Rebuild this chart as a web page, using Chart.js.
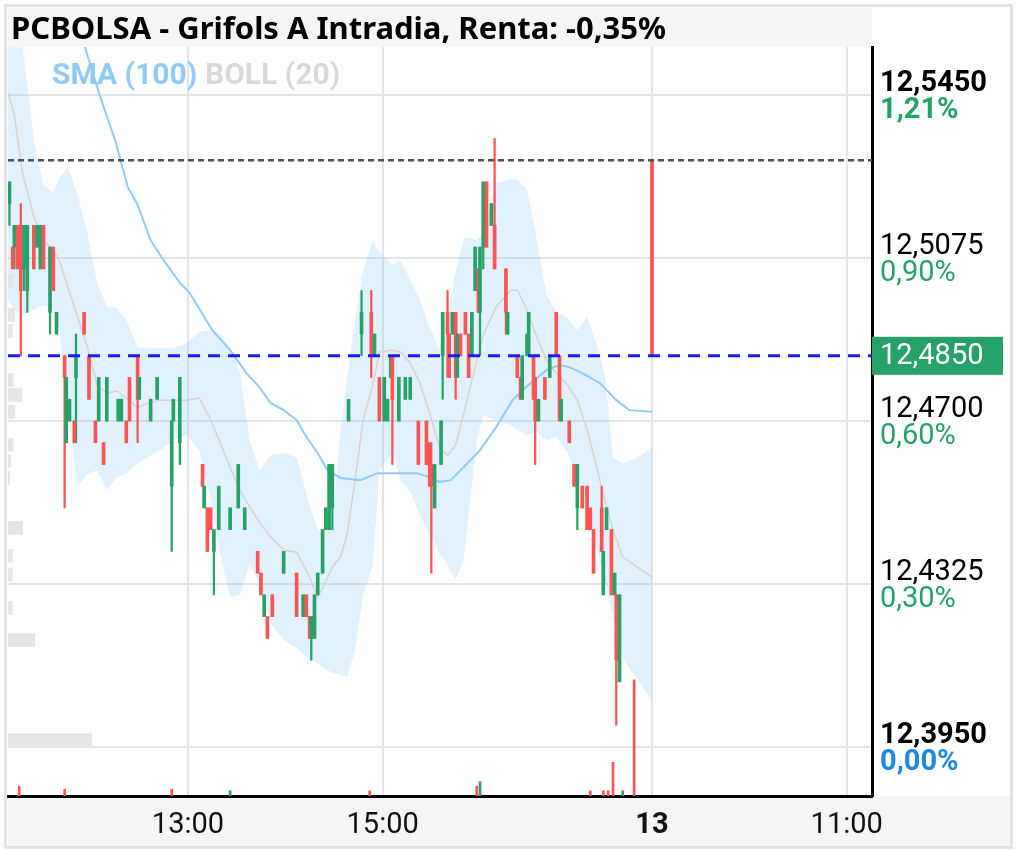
<!DOCTYPE html>
<html><head><meta charset="utf-8">
<script src="https://cdn.jsdelivr.net/npm/chart.js@4.4.1/dist/chart.umd.min.js"></script>
<style>html,body{margin:0;padding:0;background:#fff;}#wrap{position:relative;width:1017px;height:851px;}</style>
</head><body><div id="wrap"><canvas id="c" width="1017" height="851"></canvas></div>
<script>
const TITLE = 'PCBOLSA - Grifols A Intradia, Renta: -0,35%';
const LEGEND_SMA = 'SMA (100)';
const LEGEND_BOLL = 'BOLL (20)';
// time axis: minutes after 09:00 of day 12 (session compressed; day 13 opens at 526)
const xTickValues = [240, 360, 526, 646];
const xTickLabels = ['13:00', '15:00', '13', '11:00'];
const yTickValues = [12.395, 12.4325, 12.47, 12.5075, 12.545];
const pctLabels = ['0,00%', '0,30%', '0,60%', '0,90%', '1,21%'];
const lastPrice = 12.485;
const prevClose = 12.53;

const candleTime = [130,132,133,135,137,139,141,145,147,149,
151,155,157,159,164,165,167,170,171,176,
179,183,185,188,190,197,199,202,204,209,
210,217,221,230,231,235,249,250,252,254,
256,259,266,271,275,283,285,287,289,292,
299,307,311,313,315,316,318,320,323,325,
327,329,339,347,353,355,358,361,363,365,
366,370,374,377,382,387,389,390,392,396,
397,400,401,403,405,406,408,411,413,415,
417,419,420,422,424,427,429,436,437,443,
445,446,449,450,453,454,456,460,463,467,
469,470,475,478,480,483,486,488,490,495,
496,498,501,503,504,506,526];
const candleOpen = [12.520,12.510,12.510,12.515,12.515,12.505,12.500,12.515,12.510,12.505,
12.515,12.495,12.510,12.490,12.485,12.465,12.470,12.470,12.480,12.495,
12.485,12.470,12.470,12.465,12.470,12.470,12.470,12.470,12.480,12.485,
12.475,12.470,12.475,12.455,12.470,12.465,12.460,12.450,12.450,12.450,
12.440,12.445,12.445,12.450,12.445,12.440,12.435,12.425,12.425,12.430,
12.435,12.435,12.425,12.430,12.425,12.420,12.420,12.430,12.435,12.445,
12.445,12.450,12.470,12.490,12.495,12.485,12.480,12.470,12.470,12.480,
12.485,12.470,12.475,12.475,12.470,12.470,12.465,12.460,12.450,12.460,
12.485,12.495,12.490,12.490,12.495,12.480,12.490,12.495,12.490,12.485,
12.500,12.505,12.495,12.510,12.525,12.515,12.515,12.505,12.490,12.485,
12.480,12.475,12.485,12.485,12.485,12.480,12.470,12.480,12.480,12.495,
12.485,12.470,12.470,12.460,12.450,12.455,12.455,12.450,12.445,12.450,
12.430,12.445,12.445,12.430,12.430,12.410,12.530];
const candleHigh = [12.525,12.510,12.515,12.515,12.520,12.515,12.515,12.515,12.515,12.515,
12.515,12.510,12.510,12.495,12.485,12.480,12.475,12.470,12.490,12.495,
12.485,12.470,12.480,12.465,12.480,12.475,12.475,12.470,12.480,12.485,
12.480,12.475,12.480,12.470,12.475,12.480,12.460,12.455,12.450,12.450,
12.445,12.455,12.450,12.460,12.450,12.440,12.435,12.430,12.425,12.430,
12.440,12.435,12.430,12.430,12.425,12.425,12.430,12.435,12.445,12.450,
12.460,12.460,12.475,12.500,12.500,12.490,12.480,12.480,12.475,12.485,
12.485,12.480,12.480,12.480,12.470,12.470,12.465,12.465,12.460,12.470,
12.495,12.500,12.490,12.495,12.495,12.490,12.490,12.495,12.490,12.495,
12.510,12.505,12.510,12.525,12.525,12.520,12.535,12.505,12.495,12.485,
12.480,12.485,12.490,12.495,12.485,12.480,12.475,12.480,12.485,12.495,
12.485,12.475,12.470,12.460,12.460,12.455,12.455,12.450,12.445,12.455,
12.440,12.450,12.445,12.435,12.430,12.430,12.530];
const candleLow = [12.515,12.505,12.505,12.505,12.485,12.500,12.495,12.505,12.510,12.505,
12.505,12.490,12.500,12.490,12.450,12.465,12.470,12.465,12.465,12.490,
12.475,12.465,12.470,12.460,12.470,12.470,12.470,12.465,12.470,12.465,
12.475,12.470,12.475,12.440,12.470,12.460,12.455,12.450,12.440,12.445,
12.430,12.445,12.445,12.450,12.445,12.435,12.430,12.425,12.420,12.425,
12.435,12.425,12.425,12.425,12.420,12.415,12.420,12.430,12.435,12.445,
12.445,12.445,12.470,12.485,12.480,12.485,12.470,12.470,12.470,12.480,
12.460,12.470,12.475,12.475,12.460,12.460,12.455,12.435,12.450,12.460,
12.475,12.480,12.480,12.490,12.475,12.480,12.485,12.490,12.480,12.485,
12.500,12.495,12.485,12.505,12.510,12.515,12.505,12.490,12.490,12.480,
12.475,12.475,12.485,12.485,12.475,12.460,12.470,12.475,12.480,12.485,
12.470,12.470,12.465,12.455,12.445,12.450,12.445,12.445,12.435,12.440,
12.430,12.445,12.430,12.430,12.400,12.410,12.485];
const candleClose = [12.525,12.505,12.515,12.505,12.500,12.515,12.515,12.505,12.515,12.515,
12.505,12.510,12.500,12.495,12.480,12.480,12.475,12.465,12.485,12.490,
12.475,12.465,12.480,12.460,12.480,12.475,12.475,12.465,12.470,12.475,
12.480,12.475,12.480,12.470,12.475,12.480,12.455,12.455,12.440,12.445,
12.445,12.455,12.450,12.460,12.450,12.435,12.430,12.430,12.420,12.425,
12.440,12.425,12.430,12.425,12.420,12.425,12.430,12.435,12.445,12.450,
12.460,12.460,12.475,12.495,12.485,12.490,12.470,12.480,12.475,12.485,
12.475,12.480,12.480,12.480,12.460,12.460,12.455,12.455,12.460,12.470,
12.495,12.490,12.480,12.495,12.480,12.490,12.485,12.490,12.480,12.495,
12.510,12.495,12.510,12.525,12.510,12.520,12.505,12.495,12.495,12.480,
12.475,12.485,12.490,12.495,12.475,12.470,12.475,12.475,12.485,12.485,
12.470,12.475,12.465,12.455,12.460,12.450,12.445,12.445,12.435,12.440,
12.440,12.450,12.430,12.435,12.415,12.430,12.485];

// volume (thousand shares) shown at the foot of the chart
const volTime  = [136,164,230,266,352,418,420,488,496,499,502,508,515];
const volValue = [13,9,9,7,7,13,19,7,7,7,45,7,155];
const volUp    = [false,false,false,true,false,false,true,false,false,false,false,true,false];

// volume profile (thousand shares per price bin)
const profPrice  = [12.5022,12.4944,12.4907,12.4794,12.4760,12.4721,12.4645,12.4608,12.4569,12.4454,12.4390,12.4346,12.4270,12.4196,12.3966];
const profVolume = [6,8,5,6,16,8,6,3,2,17,5,5,5,31,97];

// Bollinger (20)
const bollTime = [129,133,138,145,151,157,161,166,172,178,184,190,196,202,209,215,223,231,239,247,254,260,266,272,278,284,291,299,307,315,320,324,329,334,338,343,348,354,358,366,371,377,383,389,395,400,405,410,414,418,422,430,439,443,449,455,461,467,474,480,486,492,497,502,508,517,526];
const bollUpper = [12.5600,12.5600,12.5565,12.5347,12.5243,12.5225,12.5259,12.5285,12.5220,12.5133,
12.5018,12.4963,12.4960,12.4932,12.4870,12.4868,12.4868,12.4868,12.4879,12.4905,
12.4909,12.4900,12.4870,12.4813,12.4656,12.4586,12.4621,12.4626,12.4616,12.4506,
12.4449,12.4437,12.4456,12.4679,12.4794,12.4932,12.5048,12.5116,12.5089,12.5059,
12.5070,12.5025,12.4979,12.4916,12.4863,12.4949,12.5043,12.5121,12.5121,12.5116,
12.5133,12.5248,12.5255,12.5255,12.5232,12.5116,12.4990,12.4951,12.4937,12.4909,
12.4939,12.4875,12.4806,12.4616,12.4602,12.4616,12.4640];
const bollMiddle = [12.5457,12.5404,12.5271,12.5170,12.5116,12.5093,12.5066,12.5008,12.4939,12.4870,
12.4783,12.4764,12.4769,12.4753,12.4730,12.4741,12.4748,12.4748,12.4748,12.4753,
12.4702,12.4649,12.4593,12.4541,12.4502,12.4468,12.4433,12.4403,12.4398,12.4341,
12.4295,12.4323,12.4364,12.4387,12.4437,12.4564,12.4702,12.4783,12.4859,12.4863,
12.4859,12.4833,12.4787,12.4718,12.4640,12.4621,12.4645,12.4718,12.4778,12.4840,
12.4898,12.4963,12.5001,12.5001,12.4956,12.4893,12.4840,12.4810,12.4783,12.4748,
12.4679,12.4593,12.4518,12.4449,12.4387,12.4364,12.4341];
const bollLower = [12.4979,12.4956,12.4944,12.4956,12.4967,12.4956,12.4909,12.4725,12.4548,12.4579,
12.4586,12.4541,12.4570,12.4579,12.4602,12.4616,12.4633,12.4656,12.4667,12.4633,
12.4518,12.4392,12.4295,12.4300,12.4369,12.4327,12.4235,12.4196,12.4177,12.4150,
12.4143,12.4132,12.4120,12.4116,12.4111,12.4173,12.4300,12.4369,12.4586,12.4628,
12.4563,12.4537,12.4484,12.4437,12.4396,12.4369,12.4334,12.4380,12.4518,12.4656,
12.4714,12.4702,12.4691,12.4679,12.4667,12.4673,12.4656,12.4663,12.4626,12.4575,
12.4506,12.4403,12.4334,12.4242,12.4155,12.4104,12.4058];

// SMA (100)
const smaTime = [173,177,186,195,203,209,217,225,235,241,255,266,276,284,291,299,307,313,320,326,334,346,357,369,381,389,395,402,410,420,430,440,451,461,469,475,483,494,504,512,526];
const smaValue = [12.5623,12.5554,12.5445,12.5347,12.5238,12.5197,12.5116,12.5070,12.5018,12.4995,
12.4909,12.4863,12.4810,12.4778,12.4741,12.4725,12.4702,12.4663,12.4626,12.4587,
12.4569,12.4564,12.4580,12.4580,12.4580,12.4571,12.4560,12.4564,12.4594,12.4633,
12.4686,12.4748,12.4787,12.4817,12.4829,12.4824,12.4810,12.4787,12.4748,12.4725,12.4721];

const X_MIN = 129.1, X_MAX = 661.6, Y_MIN = 12.38373, Y_MAX = 12.55604;
const GREEN = '#26a269', RED = '#ff5252';

const candleColors = candleOpen.map((o, i) => candleClose[i] >= o ? GREEN : RED);
const pts = (xs, ys) => xs.map((x, i) => ({x: x, y: ys[i]}));
const priceLabel = v => v.toFixed(4).replace('.', ',');

const decor = {
  id: 'decor',
  beforeDraw(chart) {
    const {ctx, chartArea: a, width: W, height: H} = chart;
    ctx.save();
    ctx.fillStyle = '#ffffff'; ctx.fillRect(0, 0, W, H);
    ctx.fillStyle = '#f5f5f5';
    ctx.fillRect(8, 8, a.right - 8, a.top - 8);
    ctx.fillRect(8, a.bottom, W - 14, H - 5 - a.bottom);
    ctx.strokeStyle = '#e3e3e3'; ctx.lineWidth = 3;
    ctx.strokeRect(5.5, 5.5, W - 11, H - 9);
    ctx.restore();
  },
  afterDraw(chart) {
    const {ctx, chartArea: a} = chart;
    const ys = chart.scales.y;
    ctx.save();
    ctx.textBaseline = 'alphabetic';
    ctx.textAlign = 'left';
    ctx.fillStyle = '#000';
    ctx.font = 'bold 31px "Noto Sans"';
    ctx.fillText(TITLE, 11, 39);
    ctx.font = 'bold 30px Roboto';
    ctx.fillStyle = '#90caf9';
    ctx.fillText(LEGEND_SMA, 52, 84);
    ctx.fillStyle = '#d9d9d9';
    ctx.fillText(LEGEND_BOLL, 205, 84);
    ctx.textBaseline = 'middle';
    yTickValues.forEach((v, i) => {
      const y = ys.getPixelForValue(v);
      const edge = (i === 0 || i === yTickValues.length - 1);
      ctx.font = (edge ? 'bold ' : '') + '29px Roboto';
      ctx.fillStyle = i === 0 ? '#1e88e5' : GREEN;
      ctx.fillText(pctLabels[i], a.right + 8, y + 16);
    });
    const py = ys.getPixelForValue(lastPrice);
    ctx.fillStyle = GREEN;
    ctx.fillRect(a.right, py - 19, 131, 38);
    ctx.fillStyle = '#fff';
    ctx.font = '29px Roboto';
    ctx.fillText(priceLabel(lastPrice), a.right + 8, py + 1);
    ctx.restore();
  }
};

new Chart(document.getElementById('c'), {
  type: 'bar',
  data: {
    datasets: [
      {type: 'line', data: pts(bollTime, bollUpper), borderWidth: 0, pointRadius: 0, fill: '+1', backgroundColor: 'rgba(144,202,249,0.27)', order: 20},
      {type: 'line', data: pts(bollTime, bollLower), borderWidth: 0, pointRadius: 0, fill: false, order: 20},
      {type: 'bar', indexAxis: 'y', xAxisID: 'xProf', yAxisID: 'y', data: profPrice.map((p, i) => ({x: profVolume[i], y: p})), backgroundColor: '#e6e6e6', barThickness: 13, grouped: false, order: 19},
      {type: 'line', data: pts(bollTime, bollMiddle), borderColor: '#dcd2ce', borderWidth: 1.5, pointRadius: 0, fill: false, order: 15},
      {type: 'line', data: pts(smaTime, smaValue), borderColor: '#90caf9', borderWidth: 2, pointRadius: 0, fill: false, order: 14},
      {type: 'bar', xAxisID: 'x', yAxisID: 'yVol', data: pts(volTime, volValue), backgroundColor: volUp.map(u => u ? GREEN : RED), barThickness: 2, grouped: false, order: 12},
      {type: 'bar', xAxisID: 'x', yAxisID: 'y', data: candleTime.map((t, i) => ({x: t, y: [candleLow[i], candleHigh[i]]})), backgroundColor: candleColors, barThickness: 1.6, grouped: false, order: 10},
      {type: 'bar', xAxisID: 'x', yAxisID: 'y', data: candleTime.map((t, i) => ({x: t, y: [candleOpen[i], candleClose[i]]})), backgroundColor: candleColors, barThickness: 3, grouped: false, order: 9},
      {type: 'line', data: [{x: X_MIN, y: prevClose}, {x: X_MAX, y: prevClose}], borderColor: '#505050', borderWidth: 2.5, borderDash: [6, 4], pointRadius: 0, fill: false, order: 2},
      {type: 'line', data: [{x: X_MIN, y: lastPrice}, {x: X_MAX, y: lastPrice}], borderColor: '#1c1cf0', borderWidth: 3, borderDash: [12, 8], pointRadius: 0, fill: false, order: 1}
    ]
  },
  options: {
    responsive: false,
    animation: false,
    events: [],
    layout: {padding: {left: 8, top: 47, right: 5, bottom: 5}},
    plugins: {legend: {display: false}, tooltip: {enabled: false}, title: {display: false}},
    scales: {
      x: {
        type: 'linear', position: 'bottom', min: X_MIN, max: X_MAX, offset: false,
        afterBuildTicks: s => { s.ticks = xTickValues.map(v => ({value: v})); },
        afterFit: s => { s.height = 50; },
        ticks: {
          autoSkip: false, maxRotation: 0, padding: 12, color: '#111',
          font: c => ({family: 'Roboto', size: 29, weight: c.index === 2 ? 'bold' : 'normal'}),
          callback: (v, i) => xTickLabels[i]
        },
        grid: {color: '#e4e4e4', lineWidth: 2, drawTicks: false, offset: false},
        border: {display: true, color: '#000', width: 3}
      },
      y: {
        type: 'linear', position: 'right', min: Y_MIN, max: Y_MAX, offset: false,
        afterBuildTicks: s => { s.ticks = yTickValues.map(v => ({value: v})); },
        afterFit: s => { s.width = 140; },
        ticks: {
          padding: 8, labelOffset: -11, color: '#000',
          font: c => ({family: 'Roboto', size: 29, weight: (c.index === 0 || c.index === yTickValues.length - 1) ? 'bold' : 'normal'}),
          callback: v => priceLabel(v)
        },
        grid: {color: '#e4e4e4', lineWidth: 2, drawTicks: false, offset: false},
        border: {display: true, color: '#000', width: 3}
      },
      xProf: {type: 'linear', axis: 'x', position: 'top', display: false, min: 0, max: 1000, offset: false, grid: {offset: false}},
      yVol: {type: 'linear', axis: 'y', position: 'left', display: false, min: 0, max: 1000, offset: false}
    }
  },
  plugins: [decor]
});
</script>
</body></html>
